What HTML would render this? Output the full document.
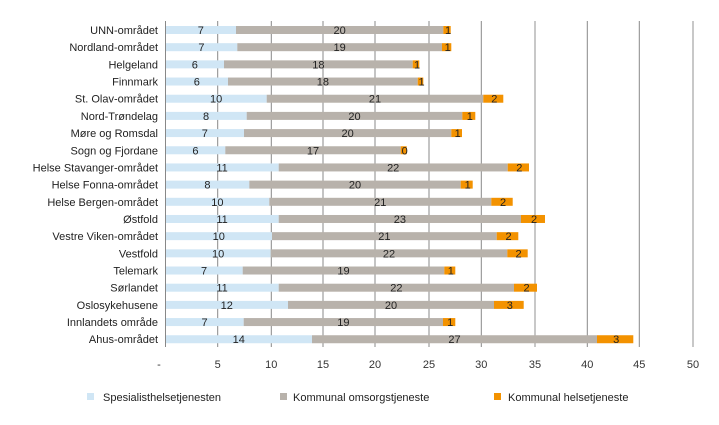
<!DOCTYPE html>
<html><head><meta charset="utf-8"><style>
body{margin:0;background:#fff;}
svg{display:block;font-family:"Liberation Sans",sans-serif;}
</style></head><body>
<svg width="719" height="425" viewBox="0 0 719 425" xmlns="http://www.w3.org/2000/svg">
<g id="grid"></g>
<g id="bars"></g>
<g id="ticks" font-size="11" fill="#333" text-anchor="middle"></g>
<g font-size="11" fill="#222">
<rect x="87" y="393" width="7" height="7" fill="#d0e6f5"/><text x="103" y="401">Spesialisthelsetjenesten</text>
<rect x="280" y="393" width="7" height="7" fill="#b8b2ab"/><text x="293" y="401">Kommunal omsorgstjeneste</text>
<rect x="494" y="393" width="7" height="7" fill="#f39200"/><text x="508" y="401">Kommunal helsetjeneste</text>
</g>
</svg>
<script>
const ns="http://www.w3.org/2000/svg";
function el(t,a,p,txt){const e=document.createElementNS(ns,t);for(const k in a)e.setAttribute(k,a[k]);if(txt!==undefined)e.textContent=txt;p.appendChild(e);return e;}
const G=document.getElementById('grid'),B=document.getElementById('bars'),T=document.getElementById('ticks');
const gx=[165.5,217.7,271.3,323,375,429,481.3,535,587.3,639.3,693];
gx.forEach((x,i)=>{if(i==0)return;const light=(i==7||i==10);el('line',{x1:x,x2:x,y1:21,y2:347,stroke:light?'#c8c8c8':'#888','stroke-width':light?2:1},G);});
gx.forEach((x,i)=>{el('text',{x:i==0?159:x,y:368},T,i==0?'-':String(i*5));});
const rows=[
["UNN-området",236,443.3,450.7,7,20,1],
["Nordland-området",237.3,442,451.3,7,19,1],
["Helgeland",224,412.7,419.3,6,18,1],
["Finnmark",228,417.7,423.3,6,18,1],
["St. Olav-området",266.7,483.3,503.3,10,21,2],
["Nord-Trøndelag",246.7,462.3,475.3,8,20,1],
["Møre og Romsdal",244,451.3,462,7,20,1],
["Sogn og Fjordane",225.3,400.7,406.7,6,17,0],
["Helse Stavanger-området",278.7,507.7,529,11,22,2],
["Helse Fonna-området",249.3,460.7,472.7,8,20,1],
["Helse Bergen-området",269.3,491.3,512.7,10,21,2],
["Østfold",278.7,521,545,11,23,2],
["Vestre Viken-området",272,496.7,518.3,10,21,2],
["Vestfold",270.7,507.3,527.7,10,22,2],
["Telemark",242.7,444.3,455.3,7,19,1],
["Sørlandet",278.7,514,537,11,22,2],
["Oslosykehusene",288,494,523.7,12,20,3],
["Innlandets område",243.7,443,455.3,7,19,1],
["Ahus-området",312,597,633.3,14,27,3]];
rows.forEach((r,i)=>{const y=30+i*17.18;const x0=165.5;
el('rect',{x:x0,y:y-4,width:r[1]-x0,height:8,fill:'#d0e6f5'},B);
el('rect',{x:r[1],y:y-4,width:r[2]-r[1],height:8,fill:'#b8b2ab'},B);
el('rect',{x:r[2],y:y-4,width:r[3]-r[2],height:8,fill:'#f39200'},B);
const f={'font-size':11,fill:'#222','text-anchor':'middle'};
el('text',Object.assign({x:(x0+r[1])/2,y:y+4},f),B,r[4]);
el('text',Object.assign({x:(r[1]+r[2])/2,y:y+4},f),B,r[5]);
el('text',Object.assign({x:(r[2]+r[3])/2+1,y:y+4},f),B,r[6]);
el('text',{x:158,y:y+4,'font-size':11,fill:'#222','text-anchor':'end'},B,r[0]);
});
el('line',{x1:165.5,x2:165.5,y1:21,y2:347,stroke:'#888','stroke-width':1},B);
</script>
</body></html>
